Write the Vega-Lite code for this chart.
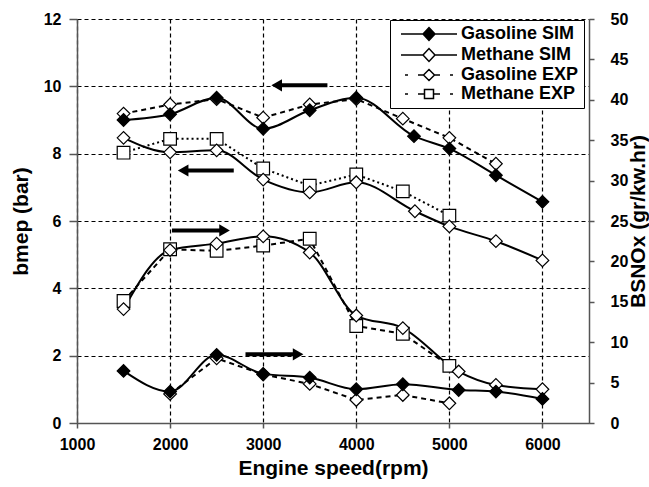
{
  "$schema": "https://vega.github.io/schema/vega-lite/v6.json",
  "width": 512,
  "height": 404,
  "autosize": {"type": "none"},
  "padding": {"left": 77, "top": 19, "right": 60, "bottom": 64},
  "background": "white",
  "config": {
    "view": {"stroke": null},
    "font": "Liberation Sans",
    "axis": {
      "labelFont": "Liberation Sans", "labelFontWeight": "bold", "labelFontSize": 16, "labelColor": "black",
      "titleFont": "Liberation Sans", "titleFontWeight": "bold", "titleFontSize": 20, "titleColor": "black",
      "domainColor": "#555", "domainWidth": 1.5, "tickColor": "#555", "tickWidth": 1.5,
      "gridColor": "black", "gridDash": [4, 3], "gridWidth": 1.2, "gridOpacity": 1
    }
  },
  "datasets": {
    "bmep": [
      {"s": "Methane EXP", "rpm": 1500, "v": 8.03}, {"s": "Methane EXP", "rpm": 2000, "v": 8.44}, {"s": "Methane EXP", "rpm": 2500, "v": 8.44}, {"s": "Methane EXP", "rpm": 3000, "v": 7.56}, {"s": "Methane EXP", "rpm": 3500, "v": 7.05}, {"s": "Methane EXP", "rpm": 4000, "v": 7.38}, {"s": "Methane EXP", "rpm": 4500, "v": 6.88}, {"s": "Methane EXP", "rpm": 5000, "v": 6.16},
      {"s": "Gasoline EXP", "rpm": 1500, "v": 9.19}, {"s": "Gasoline EXP", "rpm": 2000, "v": 9.46}, {"s": "Gasoline EXP", "rpm": 2500, "v": 9.62}, {"s": "Gasoline EXP", "rpm": 3000, "v": 9.07}, {"s": "Gasoline EXP", "rpm": 3500, "v": 9.46}, {"s": "Gasoline EXP", "rpm": 4000, "v": 9.62}, {"s": "Gasoline EXP", "rpm": 4500, "v": 9.04}, {"s": "Gasoline EXP", "rpm": 5000, "v": 8.47}, {"s": "Gasoline EXP", "rpm": 5500, "v": 7.7},
      {"s": "Methane SIM", "rpm": 1500, "v": 8.47}, {"s": "Methane SIM", "rpm": 2000, "v": 8.04}, {"s": "Methane SIM", "rpm": 2500, "v": 8.1}, {"s": "Methane SIM", "rpm": 3000, "v": 7.23}, {"s": "Methane SIM", "rpm": 3500, "v": 6.85}, {"s": "Methane SIM", "rpm": 4000, "v": 7.15}, {"s": "Methane SIM", "rpm": 4630, "v": 6.29}, {"s": "Methane SIM", "rpm": 5000, "v": 5.84}, {"s": "Methane SIM", "rpm": 5500, "v": 5.4}, {"s": "Methane SIM", "rpm": 6000, "v": 4.83},
      {"s": "Gasoline SIM", "rpm": 1500, "v": 9.0}, {"s": "Gasoline SIM", "rpm": 2000, "v": 9.17}, {"s": "Gasoline SIM", "rpm": 2500, "v": 9.66}, {"s": "Gasoline SIM", "rpm": 3000, "v": 8.74}, {"s": "Gasoline SIM", "rpm": 3500, "v": 9.29}, {"s": "Gasoline SIM", "rpm": 4000, "v": 9.66}, {"s": "Gasoline SIM", "rpm": 4620, "v": 8.52}, {"s": "Gasoline SIM", "rpm": 5000, "v": 8.15}, {"s": "Gasoline SIM", "rpm": 5500, "v": 7.36}, {"s": "Gasoline SIM", "rpm": 6000, "v": 6.57}
    ],
    "nox": [
      {"s": "Methane EXP", "rpm": 1500, "v": 15.1}, {"s": "Methane EXP", "rpm": 2000, "v": 21.5}, {"s": "Methane EXP", "rpm": 2500, "v": 21.3}, {"s": "Methane EXP", "rpm": 3000, "v": 21.96}, {"s": "Methane EXP", "rpm": 3500, "v": 22.8}, {"s": "Methane EXP", "rpm": 4000, "v": 12.0}, {"s": "Methane EXP", "rpm": 4500, "v": 11.04}, {"s": "Methane EXP", "rpm": 5000, "v": 7.07},
      {"s": "Gasoline EXP", "rpm": 2000, "v": 3.6}, {"s": "Gasoline EXP", "rpm": 2500, "v": 8.0}, {"s": "Gasoline EXP", "rpm": 3000, "v": 6.0}, {"s": "Gasoline EXP", "rpm": 3500, "v": 4.84}, {"s": "Gasoline EXP", "rpm": 4000, "v": 2.85}, {"s": "Gasoline EXP", "rpm": 4500, "v": 3.47}, {"s": "Gasoline EXP", "rpm": 5000, "v": 2.44},
      {"s": "Methane SIM", "rpm": 1500, "v": 14.1}, {"s": "Methane SIM", "rpm": 2000, "v": 21.4}, {"s": "Methane SIM", "rpm": 2500, "v": 22.2}, {"s": "Methane SIM", "rpm": 3000, "v": 23.1}, {"s": "Methane SIM", "rpm": 3500, "v": 21.1}, {"s": "Methane SIM", "rpm": 4000, "v": 13.3}, {"s": "Methane SIM", "rpm": 4500, "v": 11.75}, {"s": "Methane SIM", "rpm": 5100, "v": 6.37}, {"s": "Methane SIM", "rpm": 5500, "v": 4.71}, {"s": "Methane SIM", "rpm": 6000, "v": 4.18},
      {"s": "Gasoline SIM", "rpm": 1500, "v": 6.45}, {"s": "Gasoline SIM", "rpm": 2000, "v": 3.89}, {"s": "Gasoline SIM", "rpm": 2500, "v": 8.44}, {"s": "Gasoline SIM", "rpm": 3000, "v": 6.08}, {"s": "Gasoline SIM", "rpm": 3500, "v": 5.62}, {"s": "Gasoline SIM", "rpm": 4000, "v": 4.18}, {"s": "Gasoline SIM", "rpm": 4500, "v": 4.8}, {"s": "Gasoline SIM", "rpm": 5100, "v": 4.09}, {"s": "Gasoline SIM", "rpm": 5500, "v": 3.89}, {"s": "Gasoline SIM", "rpm": 6000, "v": 2.98}
    ],
    "arrows": [
      {"x0": 3690, "x1": 3145, "v": 10.03, "d": "left"},
      {"x0": 2684, "x1": 2140, "v": 7.5, "d": "left"},
      {"x0": 2020, "x1": 2585, "v": 5.72, "d": "right"},
      {"x0": 2810, "x1": 3375, "v": 2.04, "d": "right"}
    ]
  },
  "encoding": {
    "x": {
      "field": "rpm", "type": "quantitative",
      "scale": {"domain": [1000, 6500], "nice": false, "zero": false},
      "axis": {"values": [1000, 2000, 3000, 4000, 5000, 6000], "title": "Engine speed(rpm)", "titleFontSize": 21, "grid": true, "format": "d", "tickSize": 5, "labelPadding": 8, "titlePadding": 5, "labelFlush": false}
    }
  },
  "layer": [
    {
      "data": {"name": "bmep"},
      "encoding": {
        "y": {
          "field": "v", "type": "quantitative",
          "scale": {"domain": [0, 12], "nice": false},
          "axis": {"values": [0, 2, 4, 6, 8, 10, 12], "title": "bmep (bar)", "titleFontSize": 21, "grid": true, "tickSize": 8, "labelPadding": 8, "titlePadding": 12}
        }
      },
      "layer": [
        {
          "transform": [{"filter": "datum.s === 'Gasoline EXP'"}],
          "mark": {"type": "line", "color": "black", "strokeWidth": 2, "strokeDash": [5, 4]},
          "encoding": {"detail": {"field": "s"}}
        },
        {
          "transform": [{"filter": "datum.s === 'Methane EXP'"}],
          "mark": {"type": "line", "color": "black", "strokeWidth": 2, "strokeDash": [2, 3]},
          "encoding": {"detail": {"field": "s"}}
        },
        {
          "transform": [{"filter": "datum.s === 'Gasoline SIM' || datum.s === 'Methane SIM'"}],
          "mark": {"type": "line", "color": "black", "strokeWidth": 2, "interpolate": "monotone"},
          "encoding": {"detail": {"field": "s"}}
        },
        {
          "mark": {"type": "point", "filled": true, "strokeWidth": 1.5, "size": 100, "opacity": 0},
          "encoding": {
            "shape": {
              "field": "s", "type": "nominal",
              "scale": {
                "domain": ["Gasoline SIM", "Methane SIM", "Gasoline EXP", "Methane EXP"],
                "range": [
                  "M-5.6,0L-1.2,0M1.2,0L5.6,0M-1.2,0L0,-1.3L1.2,0L0,1.3Z",
                  "M-5.6,0L-1.2,0M1.2,0L5.6,0M-1.2,0L0,-1.3L1.2,0L0,1.3Z",
                  "M-4.8,0L-4.2,0M-2.2,0L-1.1,0M1.1,0L2.2,0M4.2,0L4.8,0M-1.1,0L0,-1.1L1.1,0L0,1.1Z",
                  "M-4.8,0L-4.2,0M-2.2,0L-0.9,0M0.9,0L2.2,0M4.2,0L4.8,0M-0.9,-0.9L0.9,-0.9L0.9,0.9L-0.9,0.9Z"
                ]
              },
              "legend": {
                "orient": "none", "legendX": 313, "legendY": 1, "title": null,
                "strokeColor": "black", "fillColor": "white", "padding": 5,
                "labelFont": "Liberation Sans", "labelFontSize": 18, "labelFontWeight": "bold", "labelColor": "black",
                "symbolSize": 100, "symbolStrokeWidth": 1.5, "symbolOpacity": 1,
                "symbolOffset": 25, "labelOffset": 23, "rowPadding": 1
              }
            },
            "stroke": {
              "field": "s", "type": "nominal",
              "scale": {"domain": ["Gasoline SIM", "Methane SIM", "Gasoline EXP", "Methane EXP"], "range": ["black", "black", "black", "black"]},
              "legend": {
                "orient": "none", "legendX": 313, "legendY": 1, "title": null,
                "strokeColor": "black", "fillColor": "white", "padding": 5,
                "labelFont": "Liberation Sans", "labelFontSize": 18, "labelFontWeight": "bold", "labelColor": "black",
                "symbolSize": 100, "symbolStrokeWidth": 1.5, "symbolOpacity": 1,
                "symbolOffset": 25, "labelOffset": 23, "rowPadding": 1
              }
            },
            "fill": {
              "field": "s", "type": "nominal",
              "scale": {"domain": ["Gasoline SIM", "Methane SIM", "Gasoline EXP", "Methane EXP"], "range": ["black", "white", "white", "white"]},
              "legend": null
            }
          }
        },
        {
          "transform": [{"filter": "datum.s === 'Methane EXP'"}],
          "mark": {"type": "point", "shape": "square", "filled": true, "fill": "white", "stroke": "black", "strokeWidth": 1.2, "size": 160, "opacity": 1}
        },
        {
          "transform": [{"filter": "datum.s !== 'Methane EXP'"}],
          "mark": {"type": "point", "shape": "diamond", "filled": true, "stroke": "black", "strokeWidth": 1.2, "size": 160, "opacity": 1},
          "encoding": {
            "fill": {"field": "s", "type": "nominal", "legend": null}
          }
        },
        {
          "data": {"name": "arrows"},
          "mark": {"type": "rule", "color": "black", "strokeWidth": 4},
          "encoding": {"x": {"field": "x0", "type": "quantitative"}, "x2": {"field": "x1"}, "y": {"field": "v", "type": "quantitative"}}
        },
        {
          "data": {"name": "arrows"},
          "transform": [{"filter": "datum.d === 'left'"}],
          "mark": {"type": "point", "shape": "triangle-left", "filled": true, "color": "black", "size": 150, "opacity": 1},
          "encoding": {"x": {"field": "x1", "type": "quantitative"}, "y": {"field": "v", "type": "quantitative"}}
        },
        {
          "data": {"name": "arrows"},
          "transform": [{"filter": "datum.d === 'right'"}],
          "mark": {"type": "point", "shape": "triangle-right", "filled": true, "color": "black", "size": 150, "opacity": 1},
          "encoding": {"x": {"field": "x1", "type": "quantitative"}, "y": {"field": "v", "type": "quantitative"}}
        }
      ]
    },
    {
      "data": {"name": "nox"},
      "encoding": {
        "y": {
          "field": "v", "type": "quantitative",
          "scale": {"domain": [0, 50], "nice": false},
          "axis": {"orient": "right", "values": [0, 5, 10, 15, 20, 25, 30, 35, 40, 45, 50], "title": "BSNOx (gr/kw.hr)", "titleFontSize": 21, "grid": false, "tickSize": 5, "labelPadding": 16, "titleAngle": 270, "titlePadding": 21}
        }
      },
      "layer": [
        {
          "transform": [{"filter": "datum.s === 'Gasoline EXP' || datum.s === 'Methane EXP'"}],
          "mark": {"type": "line", "color": "black", "strokeWidth": 2, "strokeDash": [5, 4]},
          "encoding": {"detail": {"field": "s"}}
        },
        {
          "transform": [{"filter": "datum.s === 'Gasoline SIM' || datum.s === 'Methane SIM'"}],
          "mark": {"type": "line", "color": "black", "strokeWidth": 2, "interpolate": "monotone"},
          "encoding": {"detail": {"field": "s"}}
        },
        {
          "transform": [{"filter": "datum.s === 'Methane EXP'"}],
          "mark": {"type": "point", "shape": "square", "filled": true, "fill": "white", "stroke": "black", "strokeWidth": 1.2, "size": 160, "opacity": 1}
        },
        {
          "transform": [{"filter": "datum.s !== 'Methane EXP'"}],
          "mark": {"type": "point", "shape": "diamond", "filled": true, "stroke": "black", "strokeWidth": 1.2, "size": 160, "opacity": 1},
          "encoding": {
            "fill": {"field": "s", "type": "nominal", "legend": null}
          }
        }
      ]
    }
  ],
  "resolve": {"scale": {"y": "independent"}}
}
